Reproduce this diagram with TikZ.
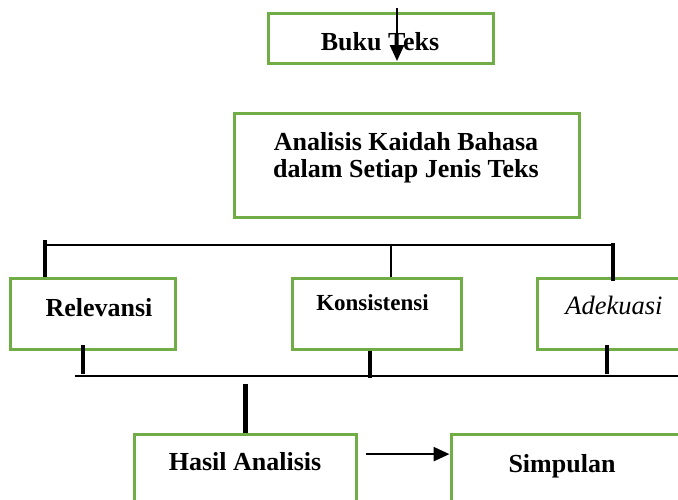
\documentclass[tikz,border=0pt]{standalone}
\usepackage{fontspec}
\setmainfont{Liberation Serif}
\usetikzlibrary{arrows.meta}
\definecolor{boxgreen}{RGB}{112,173,71}
\begin{document}
\begin{tikzpicture}[x=1pt,y=-1pt,
  gbox/.style={draw=boxgreen,line width=3pt,fill=none,inner sep=0pt},
  lbl/.style={inner sep=0pt,anchor=base,font=\fontsize{26}{30}\selectfont\bfseries},
  bus/.style={line width=2.5pt},
  thinline/.style={line width=2pt},
  tick/.style={line width=4pt},
  arr/.style={line width=2.5pt,-{Triangle[length=16pt,width=14pt]}}]
\useasboundingbox (0,0) rectangle (678,499);
\clip (0,0) rectangle (678,499);
% boxes
\node[gbox,minimum width=225pt,minimum height=50pt] (buku) at (380.5,38) {};
\node[gbox,minimum width=345pt,minimum height=104pt] (anal) at (406.5,165) {};
\node[gbox,minimum width=165pt,minimum height=71pt] (rel) at (92.5,313.5) {};
\node[gbox,minimum width=169pt,minimum height=71pt] (kon) at (376.5,313.5) {};
\node[gbox,minimum width=183pt,minimum height=71pt] (ade) at (628.5,313.5) {};
\node[gbox,minimum width=222pt,minimum height=96pt] (hasil) at (245,482) {};
\node[gbox,minimum width=249pt,minimum height=96pt] (simp) at (575.5,482) {};
% labels
\node[lbl] (tbuku) at (380,50) {Buku Teks};
\node[lbl] (tanal1) at (406,150) {Analisis Kaidah Bahasa};
\node[lbl] (tanal2) at (406,177.5) {dalam Setiap Jenis Teks};
\node[lbl] (trel) at (99,316) {Relevansi};
\node[lbl,font=\fontsize{23}{27}\selectfont\bfseries] (tkon) at (372.5,310) {Konsistensi};
\node[lbl,font=\fontsize{26.5}{30}\selectfont\itshape] (tade) at (614,314) {Adekuasi};
\node[lbl] (thasil) at (245,470) {Hasil Analisis};
\node[lbl] (tsimp) at (562,472) {Simpulan};
% coordinates
\coordinate (busL) at (45,245);
\coordinate (busM) at (391,245);
\coordinate (busR) at (613,245);
\coordinate (topL) at (45,240);
\coordinate (topR) at (613,243);
\coordinate (lowL) at (75,376);
\coordinate (lowR) at (678,376);
\coordinate (relT) at (83,345);
\coordinate (konT) at (370,378);
\coordinate (adeT) at (607,345);
\coordinate (hasT) at (245,384);
\coordinate (arrS) at (397,8);
\coordinate (arrE) at (397,61);
% connectors
\draw[arr] (arrS) -- (arrE);
\draw[bus] (busL) -- (busR);
\draw[tick,line width=3.5pt] (topL) -- (topL |- rel.north);
\draw[thinline] (busM) -- (busM |- kon.north);
\draw[tick,line width=3.5pt] (topR) -- ([yshift=-4pt]topR |- ade.north);
\draw[bus] (lowL) -- (lowR);
\draw[tick] (relT) -- ([yshift=2pt]relT |- lowL);
\draw[tick,line width=4.5pt] (kon.south -| konT) -- (konT);
\draw[tick,line width=3.5pt] (adeT) -- ([yshift=2pt]adeT |- lowL);
\draw[tick,line width=5pt] (hasT) -- (hasT |- hasil.north);
\draw[arr] (hasil.east |- thasil) ++(8,-7) coordinate (a1) -- (simp.west |- a1);
\end{tikzpicture}
\end{document}
